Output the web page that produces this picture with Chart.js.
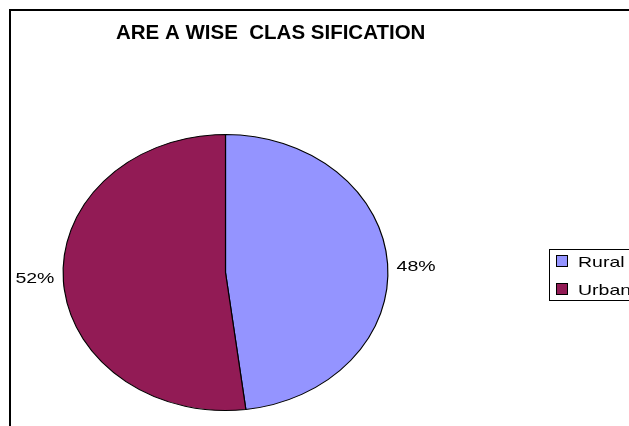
<!DOCTYPE html>
<html>
<head>
<meta charset="utf-8">
<script src="https://cdn.jsdelivr.net/npm/chart.js@4"></script>
<style>
  html, body { margin: 0; padding: 0; background: #fff; }
  #wrap { width: 629px; height: 426px; position: relative; }
</style>
</head>
<body>
<div id="wrap"><canvas id="myChart" width="629" height="426"></canvas></div>
<script>
const titleText = 'ARE A WISE  CLAS SIFICATION';
const categories = ['Rural', 'Urban'];
const shares = [48, 52];
const sliceColors = ['#9494FF', '#921B55'];

// pie in the picture is wider than tall
const stretchX = 163 / 138.5;
// small texts look widened too
const textStretch = 1.3;

function wideText(c, txt, x, y, align) {
    c.save();
    c.translate(x, y);
    c.scale(textStretch, 1);
    c.textAlign = align;
    c.fillText(txt, 0, 0);
    c.restore();
}

const ellipsePie = {
    id: 'ellipsePie',
    beforeDraw(chart) {
        const c = chart.ctx;
        c.save();
        c.fillStyle = '#fff';
        c.fillRect(0, 0, chart.width, chart.height);
        // frame
        c.strokeStyle = '#000';
        c.lineWidth = 2;
        c.beginPath();
        c.moveTo(10, chart.height);
        c.lineTo(10, 10);
        c.lineTo(chart.width + 2, 10);
        c.stroke();
        // title
        c.fillStyle = '#000';
        c.font = 'bold 20.5px "Liberation Sans", Arial, sans-serif';
        c.textAlign = 'left';
        c.textBaseline = 'middle';
        c.fillText(titleText, 116, 33);
        c.restore();
    },
    beforeDatasetsDraw(chart) {
        const arc = chart.getDatasetMeta(0).data[0];
        const c = chart.ctx;
        c.save();
        c.translate(arc.x, arc.y);
        c.scale(stretchX, 1);
        c.translate(-arc.x, -arc.y);
    },
    afterDatasetsDraw(chart) {
        const c = chart.ctx;
        c.restore();
        const meta = chart.getDatasetMeta(0);
        const total = shares.reduce((a, b) => a + b, 0);
        c.save();
        c.font = '15px "Liberation Sans", Arial, sans-serif';
        c.fillStyle = '#000';
        c.textBaseline = 'middle';
        meta.data.forEach((a, i) => {
            const mid = (a.startAngle + a.endAngle) / 2;
            const rx = a.outerRadius * stretchX;
            const ry = a.outerRadius;
            const x = a.x + Math.cos(mid) * (rx + 9);
            const y = a.y + Math.sin(mid) * ry * 0.7;
            wideText(c, Math.round(shares[i] / total * 100) + '%', x, y,
                Math.cos(mid) >= 0 ? 'left' : 'right');
        });
        // legend
        c.strokeStyle = '#000';
        c.lineWidth = 1;
        c.strokeRect(549.5, 249.5, 120, 51);
        categories.forEach((name, i) => {
            const y = 256 + i * 28;
            c.fillStyle = sliceColors[i];
            c.fillRect(557, y, 10, 10);
            c.strokeRect(556.5, y - 0.5, 11, 11);
            c.fillStyle = '#000';
            wideText(c, name, 578, y + 6.5, 'left');
        });
        c.restore();
    }
};

const ctx = document.getElementById('myChart').getContext('2d');
new Chart(ctx, {
    type: 'pie',
    data: {
        labels: categories,
        datasets: [{
            data: shares,
            backgroundColor: sliceColors,
            borderColor: '#000',
            borderWidth: 1
        }]
    },
    options: {
        responsive: false,
        animation: false,
        events: [],
        layout: {
            padding: { left: 87, right: 265, top: 134, bottom: 15 }
        },
        plugins: {
            legend: { display: false },
            title: { display: false },
            tooltip: { enabled: false }
        }
    },
    plugins: [ellipsePie]
});
</script>
</body>
</html>
